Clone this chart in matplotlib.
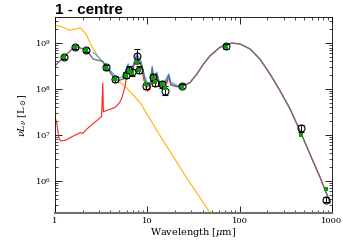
import numpy as np
import matplotlib
matplotlib.use("Agg")
import matplotlib.pyplot as plt

# observed photometry (wavelength in micron, log10 nuLnu in Lsun)
obs_wl = [1.25, 1.65, 2.17, 3.6, 4.5, 5.9, 6.4, 6.9, 7.8, 8.2, 9.7, 11.6, 12.0, 14.5, 15.5, 24, 71, 460, 850]
obs_logL = [8.70, 8.92, 8.85, 8.47, 8.21, 8.30, 8.42, 8.36, 8.72, 8.42, 8.07, 8.25, 8.13, 8.10, 7.96, 8.06, 8.93, 7.14, 5.59]
obs_err = [0.04, 0.04, 0.04, 0.05, 0.06, 0.06, 0.08, 0.08, 0.15, 0.08, 0.06, 0.08, 0.07, 0.08, 0.10, 0.04, 0.05, 0.07, 0.05]
# model photometry
mod_logL = [8.70, 8.92, 8.85, 8.46, 8.22, 8.28, 8.40, 8.35, 8.56, 8.42, 8.10, 8.24, 8.15, 8.11, 8.02, 8.05, 8.92, 6.99, 5.83]

# total model
tot_wl = [1.0, 1.25, 1.65, 2.2, 2.6, 3.0, 3.3, 3.6, 4.0, 4.5, 5.0, 5.5, 6.2, 6.7, 7.7, 8.6, 9.3, 10.0, 10.8,
          11.3, 11.8, 12.7, 13.5, 15.0, 16.5, 17.1, 18.0, 20.8, 23.6, 29.0, 34.3, 40.5, 47.7, 61.3, 82.0,
          101, 130, 166, 214, 274, 352, 452, 580, 744, 955]
tot_logL = [8.50, 8.70, 8.93, 8.85, 8.65, 8.62, 8.60, 8.47, 8.35, 8.21, 8.19, 8.22, 8.50, 8.35, 8.72, 8.55, 8.25,
            8.05, 8.10, 8.45, 8.22, 8.33, 8.12, 8.08, 8.15, 8.30, 8.10, 8.05, 8.05, 8.14, 8.32, 8.54, 8.72,
            8.91, 9.00, 8.98, 8.87, 8.65, 8.32, 7.96, 7.56, 7.08, 6.57, 6.07, 5.52]

# stellar component
star_wl = [1.0, 1.2, 1.45, 1.9, 2.2, 2.4, 2.95, 3.6, 4.5, 6.0, 8.4, 13.2, 25, 48, 60]
star_logL = [9.39, 9.35, 9.28, 9.33, 9.18, 9.00, 8.70, 8.50, 8.24, 8.02, 7.70, 7.04, 6.15, 5.30, 5.00]

# dust component
dust_wl = [1.0, 1.05, 1.1, 1.15, 1.3, 1.5, 1.8, 1.9, 2.0, 2.2, 2.6, 3.0, 3.2, 3.3, 3.35, 3.6, 4.0, 4.5,
           5.0, 5.3, 5.7, 6.2, 6.7, 7.7, 8.6, 9.3, 10.0, 10.8, 11.3, 11.8, 12.7, 13.5, 15.0, 17.0,
           18.0, 20.8, 23.6, 29.0, 34.3, 40.5, 47.7, 61.3, 82.0, 101, 130, 166, 214, 274, 352, 452,
           580, 744, 955]
dust_logL = [7.40, 7.25, 6.95, 6.87, 6.88, 6.95, 7.03, 7.05, 7.03, 7.12, 7.25, 7.35, 7.40, 8.13, 7.50,
             7.53, 7.56, 7.60, 7.70, 7.80, 8.02, 8.48, 8.30, 8.70, 8.50, 8.15, 7.95, 8.00, 8.42, 8.15,
             8.28, 8.05, 8.05, 8.28, 8.08, 8.06, 8.05, 8.14, 8.32, 8.54, 8.72, 8.91, 9.00, 8.98, 8.87,
             8.65, 8.32, 7.96, 7.56, 7.08, 6.57, 6.07, 5.52]

# unattenuated model (mid-IR part)
unatt_wl = [2.6, 3.0, 3.6, 4.0, 4.5, 5.0, 5.5, 6.2, 6.7, 7.7, 8.6, 9.3, 10.0, 10.8, 11.3, 11.8, 12.7,
            13.5, 15.0, 17.1, 18.0, 20.8, 23.6]
unatt_logL = [8.80, 8.68, 8.52, 8.40, 8.28, 8.25, 8.26, 8.55, 8.40, 8.78, 8.60, 8.30, 8.12, 8.15, 8.50,
              8.27, 8.37, 8.16, 8.12, 8.33, 8.15, 8.08, 8.06]

plt.rcParams['font.family'] = 'DejaVu Serif'
plt.rcParams['mathtext.fontset'] = 'dejavuserif'

fig = plt.figure(figsize=(3.43, 2.45), dpi=100)
ax = fig.add_axes([0.160, 0.131, 0.808, 0.800])

ax.plot(star_wl, 10**np.array(star_logL), color='#ffb300', lw=0.8)
ax.plot(dust_wl, 10**np.array(dust_logL), color='#ff2020', lw=0.8)
ax.plot(unatt_wl, 10**np.array(unatt_logL), color='#30a8ff', lw=0.8)
ax.plot(tot_wl, 10**np.array(tot_logL), color='#707070', lw=1.0)

obs = 10**np.array(obs_logL)
lo = obs - 10**(np.array(obs_logL) - np.array(obs_err))
hi = 10**(np.array(obs_logL) + np.array(obs_err)) - obs
ax.errorbar(obs_wl, obs, yerr=[lo, hi], fmt='o', ms=5, mfc='none', mec='black', mew=0.8,
            ecolor='black', elinewidth=0.7, capsize=2.5, capthick=0.7, zorder=5)
ax.plot(obs_wl, 10**np.array(mod_logL), 's', color='#00a000', ms=2.8, mew=0, zorder=6)

ax.set_xscale('log')
ax.set_yscale('log')
ax.set_xlim(1, 1000)
ax.set_ylim(10**5.30, 10**9.57)
ax.set_xticks([1, 10, 100, 1000])
ax.set_xticklabels(['1', '10', '100', '1000'])

ax.tick_params(which='both', direction='in', top=True, right=True, labelsize=6, pad=3)
ax.tick_params(which='major', length=5, width=0.6)
ax.tick_params(which='minor', length=2.5, width=0.5)
for s in ax.spines.values():
    s.set_linewidth(0.6)
ax.spines['bottom'].set_color('#707070')
ax.spines['bottom'].set_linewidth(1.5)

ax.set_xlabel(r'Wavelength [$\mu$m]', fontsize=7, labelpad=1)
ax.set_ylabel(r'$\nu L_\nu$ [L$_\odot$]', fontsize=7, labelpad=4)
ax.set_title('1 - centre', loc='left', fontsize=11, fontweight='bold', family='Liberation Sans', pad=2)

fig.savefig('out.png', dpi=100)
